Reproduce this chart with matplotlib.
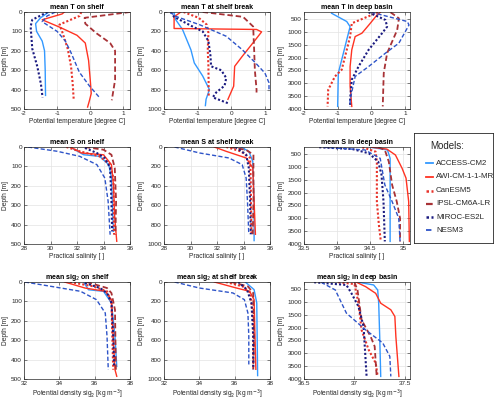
import numpy as np
import matplotlib
matplotlib.use("Agg")
import matplotlib.pyplot as plt

plt.rcParams['font.family'] = ['Liberation Sans', 'DejaVu Sans']

models = ["ACCESS-CM2", "AWI-CM-1-1-MR", "CanESM5", "IPSL-CM6A-LR", "MIROC-ES2L", "NESM3"]

# ---- mean T on shelf (depth, temperature) ----
z_tsh_acc = [0, 30, 60, 100, 150, 200, 300, 430]
v_tsh_acc = [-1.25, -1.5, -1.65, -1.62, -1.45, -1.38, -1.36, -1.35]
z_tsh_awi = [0, 10, 40, 80, 120, 160, 250, 350, 420, 460, 490]
v_tsh_awi = [-0.78, -0.85, -1.45, -0.9, -0.4, -0.15, -0.05, 0.0, 0.03, -0.03, -0.08]
z_tsh_can = [0, 20, 65, 110, 190, 280, 370, 450]
v_tsh_can = [-0.27, -0.32, -0.93, -0.83, -0.68, -0.58, -0.53, -0.5]
z_tsh_ips = [0, 30, 60, 110, 160, 200, 350, 455]
v_tsh_ips = [1.2, -0.17, -0.15, 0.19, 0.6, 0.75, 0.75, 0.65]
z_tsh_mir = [0, 40, 75, 190, 280, 370, 440]
v_tsh_mir = [-1.29, -1.75, -1.8, -1.75, -1.6, -1.49, -1.44]
z_tsh_nes = [0, 20, 50, 100, 150, 210, 310, 380, 445]
v_tsh_nes = [-1.05, -1.3, -1.45, -1.0, -0.75, -0.58, -0.33, -0.03, 0.3]

# ---- mean T at shelf break ----
z_tsb_acc = [10, 80, 180, 390, 525, 660, 800, 900, 965]
v_tsb_acc = [-1.7, -1.65, -1.45, -1.2, -1.1, -0.85, -0.65, -0.75, -0.77]
z_tsb_awi = [0, 50, 170, 180, 205, 285, 455, 560, 765, 900]
v_tsb_awi = [-1.5, -1.7, -1.7, 0.75, 0.9, 0.72, 0.33, 0.1, 0.07, -0.1]
z_tsb_can = [0, 60, 130, 215, 390, 560, 870]
v_tsb_can = [-1.42, -0.97, -0.73, -0.68, -0.7, -0.68, -0.67]
z_tsb_ips = [0, 50, 150, 400, 600, 800, 830]
v_tsb_ips = [-0.85, 0.35, 0.65, 0.68, 0.7, 0.75, 0.75]
z_tsb_mir = [0, 50, 150, 200, 300, 450, 560, 600, 680, 760, 830, 880, 940]
v_tsb_mir = [-1.8, -1.7, -1.15, -0.85, -0.68, -0.62, -0.6, -0.3, -0.15, -0.2, -0.45, -0.55, -0.1]
z_tsb_nes = [0, 45, 130, 250, 390, 525, 630, 730, 820]
v_tsb_nes = [-1.82, -1.65, -0.95, -0.15, 0.33, 0.72, 1.0, 1.12, 1.12]

# ---- mean T in deep basin ----
z_tdb_acc = [280, 600, 800, 1310, 2090, 2600, 3900]
v_tdb_acc = [-1.18, -0.73, -0.63, -0.73, -0.88, -0.98, -1.0]
z_tdb_awi = [240, 345, 700, 1055, 1185, 1700, 2350, 3120, 3900]
v_tdb_awi = [0.27, 0.17, -0.05, -0.28, -0.48, -0.58, -0.63, -0.63, -0.58]
z_tdb_can = [240, 670, 1185, 1960, 2475, 2735, 3250, 3900]
v_tdb_can = [0.2, -0.58, -0.63, -0.78, -0.88, -1.08, -1.28, -1.3]
z_tdb_ips = [240, 475, 925, 1830, 2600, 3900]
v_tdb_ips = [0.57, 0.82, 0.77, 0.47, 0.37, 0.34]
z_tdb_mir = [240, 540, 800, 1055, 1700, 2350, 2860, 3640, 3900]
v_tdb_mir = [-0.08, 0.42, 0.47, 0.32, -0.08, -0.38, -0.58, -0.63, -0.63]
z_tdb_nes = [240, 600, 735, 1440, 1830, 2350, 2735, 3640, 3900]
v_tdb_nes = [0.0, 1.07, 1.12, 0.82, 0.42, -0.08, -0.48, -0.63, -0.63]

# ---- mean S on shelf ----
z_ssh_acc = [5, 40, 48, 91, 160, 435]
v_ssh_acc = [31.6, 32.5, 33.7, 34.4, 34.6, 34.75]
z_ssh_awi = [0, 31, 40, 91, 194, 366, 486]
v_ssh_awi = [31.5, 32.35, 34.0, 34.6, 34.75, 34.85, 35.0]
z_ssh_can = [0, 22, 48, 91, 160, 452]
v_ssh_can = [31.2, 32.2, 33.7, 34.5, 34.75, 34.8]
z_ssh_ips = [0, 14, 40, 108, 280, 452]
v_ssh_ips = [32.6, 34.0, 34.6, 34.85, 34.95, 34.9]
z_ssh_mir = [5, 31, 57, 108, 280, 435]
v_ssh_mir = [32.6, 33.5, 34.1, 34.5, 34.6, 34.65]
z_ssh_nes = [0, 22, 48, 91, 160, 280, 452]
v_ssh_nes = [28.3, 30.5, 32.2, 33.5, 34.1, 34.35, 34.5]

# ---- mean S at shelf break ----
z_ssb_acc = [0, 45, 148, 560, 965]
v_ssb_acc = [33.8, 34.4, 34.7, 34.8, 34.8]
z_ssb_awi = [0, 45, 113, 216, 560, 900]
v_ssb_awi = [31.8, 32.7, 34.2, 34.7, 34.8, 34.9]
z_ssb_can = [0, 45, 113, 388, 900]
v_ssb_can = [32.7, 33.8, 34.5, 34.55, 34.6]
z_ssb_ips = [0, 30, 79, 560, 900]
v_ssb_ips = [33.0, 34.2, 34.75, 34.75, 34.7]
z_ssb_mir = [0, 79, 216, 560, 900]
v_ssb_mir = [33.4, 34.2, 34.4, 34.5, 34.55]
z_ssb_nes = [0, 62, 113, 182, 320, 560, 900]
v_ssb_nes = [28.8, 30.7, 32.9, 33.9, 34.2, 34.3, 34.4]

# ---- mean S in deep basin ----
z_sdb_acc = [240, 345, 670, 3900]
v_sdb_acc = [34.5, 34.76, 34.8, 34.8]
z_sdb_awi = [240, 310, 540, 1055, 1440, 2350, 3900]
v_sdb_awi = [34.52, 34.75, 34.88, 34.98, 35.04, 35.08, 35.09]
z_sdb_can = [240, 410, 800, 2350, 3250, 3900]
v_sdb_can = [34.38, 34.58, 34.6, 34.6, 34.63, 34.66]
z_sdb_ips = [240, 345, 800, 1700, 2350, 3000, 3900]
v_sdb_ips = [34.62, 34.72, 34.78, 34.83, 34.9, 34.95, 34.95]
z_sdb_mir = [240, 310, 475, 800, 1310, 2350, 3900]
v_sdb_mir = [33.73, 34.23, 34.48, 34.62, 34.67, 34.7, 34.72]
z_sdb_nes = [240, 345, 670, 1700, 2350, 3000, 3900]
v_sdb_nes = [33.8, 34.42, 34.65, 34.72, 34.83, 34.93, 34.95]

# ---- mean sig2 on shelf ----
z_dsh_acc = [5, 40, 48, 108, 280, 435]
v_dsh_acc = [35.4, 35.65, 36.5, 36.95, 37.15, 37.25]
z_dsh_awi = [0, 31, 48, 91, 280, 452, 486]
v_dsh_awi = [34.3, 35.45, 36.6, 36.95, 37.05, 37.15, 37.25]
z_dsh_can = [0, 22, 48, 108, 452]
v_dsh_can = [34.6, 35.9, 36.7, 36.95, 37.05]
z_dsh_ips = [0, 31, 57, 143, 452]
v_dsh_ips = [35.55, 36.7, 36.95, 37.15, 37.2]
z_dsh_mir = [5, 31, 57, 108, 280, 435]
v_dsh_mir = [35.45, 36.3, 36.7, 36.95, 37.05, 37.1]
z_dsh_nes = [0, 22, 48, 91, 160, 280, 452]
v_dsh_nes = [32.05, 33.5, 35.2, 36.1, 36.6, 36.7, 36.77]

# ---- mean sig2 at shelf break ----
z_dsb_acc = [0, 79, 216, 965]
v_dsb_acc = [36.6, 37.1, 37.25, 37.3]
z_dsb_awi = [0, 62, 96, 182, 560, 900]
v_dsb_awi = [34.85, 36.1, 36.85, 37.1, 37.15, 37.2]
z_dsb_can = [0, 45, 113, 388, 900]
v_dsb_can = [35.5, 36.45, 36.9, 37.05, 37.05]
z_dsb_ips = [0, 45, 113, 560, 900]
v_dsb_ips = [35.8, 36.75, 37.05, 37.1, 37.05]
z_dsb_mir = [0, 79, 216, 560, 900]
v_dsb_mir = [36.2, 36.7, 36.95, 37.05, 37.05]
z_dsb_nes = [0, 62, 113, 182, 320, 560, 850]
v_dsb_nes = [32.6, 34.0, 35.9, 36.55, 36.75, 36.8, 36.8]

# ---- mean sig2 in deep basin ----
z_ddb_acc = [240, 345, 540, 1055, 2350, 3900]
v_ddb_acc = [37.04, 37.19, 37.23, 37.24, 37.25, 37.26]
z_ddb_awi = [240, 410, 670, 1055, 1310, 1570, 2350, 3900]
v_ddb_awi = [37.02, 37.11, 37.21, 37.26, 37.36, 37.4, 37.41, 37.44]
z_ddb_can = [240, 310, 1055, 2090, 2860, 3380, 3900]
v_ddb_can = [36.84, 37.0, 37.04, 37.07, 37.14, 37.21, 37.23]
z_ddb_ips = [240, 540, 1700, 2350, 2735, 3900]
v_ddb_ips = [37.0, 37.03, 37.07, 37.16, 37.2, 37.22]
z_ddb_mir = [240, 345, 670, 1185, 1960, 2600, 3900]
v_ddb_mir = [36.6, 36.92, 36.97, 37.04, 37.09, 37.1, 37.12]
z_ddb_nes = [240, 540, 1440, 2090, 2600, 3120, 3900]
v_ddb_nes = [36.67, 36.81, 36.92, 37.11, 37.28, 37.35, 37.36]

colors = ['#3399ff', '#ff3322', '#e8332a', '#a83236', '#1a1a80', '#2e54c8']
styles = ['-', '-', (0, (1, 1)), (0, (3, 1.6)), (0, (1, 1)), (0, (3, 1.6))]
widths = [1.0, 1.0, 1.5, 1.3, 1.5, 1.0]

panels = [
    ("mean T on shelf", "Potential temperature [degree C]", (-2, 1.2), [-2, -1, 0, 1], (0, 500), np.arange(0, 501, 100),
     [(z_tsh_acc, v_tsh_acc), (z_tsh_awi, v_tsh_awi), (z_tsh_can, v_tsh_can), (z_tsh_ips, v_tsh_ips), (z_tsh_mir, v_tsh_mir), (z_tsh_nes, v_tsh_nes)]),
    ("mean T at shelf break", "Potential temperature [degree C]", (-2, 1.15), [-2, -1, 0, 1], (0, 1000), np.arange(0, 1001, 200),
     [(z_tsb_acc, v_tsb_acc), (z_tsb_awi, v_tsb_awi), (z_tsb_can, v_tsb_can), (z_tsb_ips, v_tsb_ips), (z_tsb_mir, v_tsb_mir), (z_tsb_nes, v_tsb_nes)]),
    ("mean T in deep basin", "Potential temperature [degree C]", (-2, 1.15), [-2, -1, 0, 1], (230, 4000), np.arange(500, 4001, 500),
     [(z_tdb_acc, v_tdb_acc), (z_tdb_awi, v_tdb_awi), (z_tdb_can, v_tdb_can), (z_tdb_ips, v_tdb_ips), (z_tdb_mir, v_tdb_mir), (z_tdb_nes, v_tdb_nes)]),
    ("mean S on shelf", "Practical salinity [ ]", (28, 36), [28, 30, 32, 34, 36], (0, 500), np.arange(0, 501, 100),
     [(z_ssh_acc, v_ssh_acc), (z_ssh_awi, v_ssh_awi), (z_ssh_can, v_ssh_can), (z_ssh_ips, v_ssh_ips), (z_ssh_mir, v_ssh_mir), (z_ssh_nes, v_ssh_nes)]),
    ("mean S at shelf break", "Practical salinity [ ]", (28, 36), [28, 30, 32, 34, 36], (0, 1000), np.arange(0, 1001, 200),
     [(z_ssb_acc, v_ssb_acc), (z_ssb_awi, v_ssb_awi), (z_ssb_can, v_ssb_can), (z_ssb_ips, v_ssb_ips), (z_ssb_mir, v_ssb_mir), (z_ssb_nes, v_ssb_nes)]),
    ("mean S in deep basin", "Practical salinity [ ]", (33.5, 35.1), [33.5, 34, 34.5, 35], (230, 4000), np.arange(500, 4001, 500),
     [(z_sdb_acc, v_sdb_acc), (z_sdb_awi, v_sdb_awi), (z_sdb_can, v_sdb_can), (z_sdb_ips, v_sdb_ips), (z_sdb_mir, v_sdb_mir), (z_sdb_nes, v_sdb_nes)]),
    ("mean sig$_2$ on shelf", "Potential density sig$_2$ [kg m$^{-3}$]", (32, 38), [32, 34, 36, 38], (0, 500), np.arange(0, 501, 100),
     [(z_dsh_acc, v_dsh_acc), (z_dsh_awi, v_dsh_awi), (z_dsh_can, v_dsh_can), (z_dsh_ips, v_dsh_ips), (z_dsh_mir, v_dsh_mir), (z_dsh_nes, v_dsh_nes)]),
    ("mean sig$_2$ at shelf break", "Potential density sig$_2$ [kg m$^{-3}$]", (32, 38), [32, 34, 36, 38], (0, 1000), np.arange(0, 1001, 200),
     [(z_dsb_acc, v_dsb_acc), (z_dsb_awi, v_dsb_awi), (z_dsb_can, v_dsb_can), (z_dsb_ips, v_dsb_ips), (z_dsb_mir, v_dsb_mir), (z_dsb_nes, v_dsb_nes)]),
    ("mean sig$_2$ in deep basin", "Potential density sig$_2$ [kg m$^{-3}$]", (36.5, 37.55), [36.5, 37, 37.5], (230, 4000), np.arange(500, 4001, 500),
     [(z_ddb_acc, v_ddb_acc), (z_ddb_awi, v_ddb_awi), (z_ddb_can, v_ddb_can), (z_ddb_ips, v_ddb_ips), (z_ddb_mir, v_ddb_mir), (z_ddb_nes, v_ddb_nes)]),
]

W, H = 500, 405
fig = plt.figure(figsize=(W / 100, H / 100), dpi=100)

col_left = [24, 164, 304]
row_top = [12, 147, 282]
aw, ah = 106, 97

for k, (title, xlab, xlim, xticks, ylim, yticks, curves) in enumerate(panels):
    r, c = divmod(k, 3)
    ax = fig.add_axes([col_left[c] / W, 1 - (row_top[r] + ah) / H, aw / W, ah / H])
    for i, (z, v) in enumerate(curves):
        ax.plot(v, z, color=colors[i], linestyle=styles[i], lw=widths[i])
    ax.set_xlim(xlim)
    ax.set_ylim(ylim[1], ylim[0])
    ax.set_xticks(xticks)
    ax.set_xticklabels([f"{t:g}" for t in xticks])
    ax.set_yticks(yticks)
    ax.grid(True, color='#e3e3e3', lw=0.5)
    ax.set_axisbelow(True)
    ax.tick_params(direction='in', length=2, width=0.4, labelsize=4.6, colors='#262626',
                   top=True, right=True, pad=1.5)
    for s in ax.spines.values():
        s.set_linewidth(0.5)
        s.set_color('#262626')
    ax.set_title(title, fontsize=5, fontweight='bold', pad=2)
    ax.set_xlabel(xlab, fontsize=4.8, labelpad=1.5, color='#262626')
    ax.set_ylabel("Depth [m]", fontsize=4.8, labelpad=1.5, color='#262626')

# legend box on the right, drawn by hand
lax = fig.add_axes([414 / W, 1 - 243 / H, 79 / W, 110 / H])
lax.set_xlim(0, 1)
lax.set_ylim(0, 1)
lax.set_xticks([])
lax.set_yticks([])
for s in lax.spines.values():
    s.set_linewidth(0.6)
    s.set_color('#262626')
lax.text(0.2, 0.885, "Models:", fontsize=7, ha='left', va='center', color='#262626')
entry_y = [0.727, 0.6, 0.473, 0.355, 0.236, 0.118]
for i, name in enumerate(models):
    lax.plot([0.15, 0.245], [entry_y[i], entry_y[i]], color=colors[i], linestyle=styles[i],
             lw=widths[i] + 0.3)
    lax.text(0.28, entry_y[i], name, fontsize=5.7, ha='left', va='center', color='#262626')

fig.savefig("out.png", dpi=100)
